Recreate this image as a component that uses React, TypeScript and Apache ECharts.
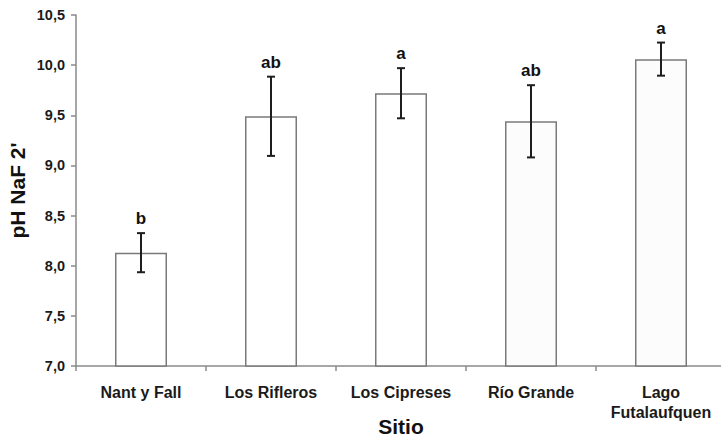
import React, { useEffect, useRef } from "react";
import * as echarts from "echarts";

const categories = ["Nant y Fall", "Los Rifleros", "Los Cipreses", "Río Grande", "Lago\nFutalaufquen"];
const means = [8.13, 9.49, 9.72, 9.44, 10.06];
const errors = [0.195, 0.395, 0.25, 0.36, 0.165];
const letters = ["b", "ab", "a", "ab", "a"];
const barFills = ["#ffffff", "#ffffff", "#ffffff", "#fcfcfc", "#fcfcfc"];

export default function App() {
  const ref = useRef<HTMLDivElement>(null);
  useEffect(() => {
    if (!ref.current) return;
    const chart = echarts.init(ref.current, null, { renderer: "svg" });
    const font = "'Liberation Sans', Arial, sans-serif";
    chart.setOption({
      animation: false,
      backgroundColor: "#ffffff",
      grid: { left: 76, top: 15, width: 650, height: 351, containLabel: false, outerBoundsMode: "none" },
      xAxis: {
        type: "category",
        data: categories,
        boundaryGap: true,
        name: "Sitio",
        nameLocation: "middle",
        nameGap: 50,
        nameMoveOverlap: false,
        nameTextStyle: { fontFamily: font, fontWeight: "bold", fontSize: 21, color: "#111" },
        axisLine: { show: true, lineStyle: { color: "#8a8a8a", width: 1.5 } },
        axisTick: { show: true, length: 5, lineStyle: { color: "#8a8a8a", width: 1.5 } },
        axisLabel: {
          interval: 0,
          margin: 16,
          fontFamily: font,
          fontWeight: "bold",
          fontSize: 16,
          color: "#1a1a1a",
          lineHeight: 20,
        },
        splitLine: { show: false },
      },
      yAxis: {
        type: "value",
        min: 7,
        max: 10.5,
        interval: 0.5,
        name: "pH NaF 2'",
        nameLocation: "middle",
        nameGap: 48,
        nameMoveOverlap: false,
        nameTextStyle: { fontFamily: font, fontWeight: "bold", fontSize: 21, color: "#111" },
        axisLine: { show: true, lineStyle: { color: "#8a8a8a", width: 1.5 } },
        axisTick: { show: true, length: 5, lineStyle: { color: "#8a8a8a", width: 1.5 } },
        axisLabel: {
          margin: 11,
          fontFamily: font,
          fontWeight: "bold",
          fontSize: 14.5,
          color: "#1a1a1a",
          formatter: (v: number) => v.toFixed(1).replace(".", ","),
        },
        splitLine: { show: false },
      },
      series: [
        {
          type: "bar",
          data: means.map((m, i) => ({ value: m, itemStyle: { color: barFills[i] } })),
          barWidth: 52,
          itemStyle: { borderColor: "#7a7a7a", borderWidth: 1.5 },
        },
        {
          type: "custom",
          data: means.map((m, i) => [i, m - errors[i], m + errors[i], letters[i]]),
          renderItem: (params: any, api: any) => {
            const x = api.value(0);
            const lo = api.coord([x, api.value(1)]);
            const hi = api.coord([x, api.value(2)]);
            const cx = lo[0];
            const cap = 4;
            const style = { stroke: "#1e1e1e", lineWidth: 2 };
            return {
              type: "group",
              children: [
                { type: "line", shape: { x1: cx, y1: lo[1], x2: cx, y2: hi[1] }, style },
                { type: "line", shape: { x1: cx - cap, y1: lo[1], x2: cx + cap, y2: lo[1] }, style },
                { type: "line", shape: { x1: cx - cap, y1: hi[1], x2: cx + cap, y2: hi[1] }, style },
                {
                  type: "text",
                  x: cx,
                  y: hi[1] - 6,
                  style: {
                    text: letters[params.dataIndex],
                    fontFamily: font,
                    fontWeight: "bold",
                    fontSize: 17,
                    fill: "#111",
                    align: "center",
                    verticalAlign: "bottom",
                  },
                },
              ],
            };
          },
          z: 5,
        },
      ],
    });
    return () => chart.dispose();
  }, []);
  return (
    <div
      ref={ref}
      style={{ position: "fixed", left: 0, top: 0, width: 721, height: 439, background: "#fff" }}
    />
  );
}
